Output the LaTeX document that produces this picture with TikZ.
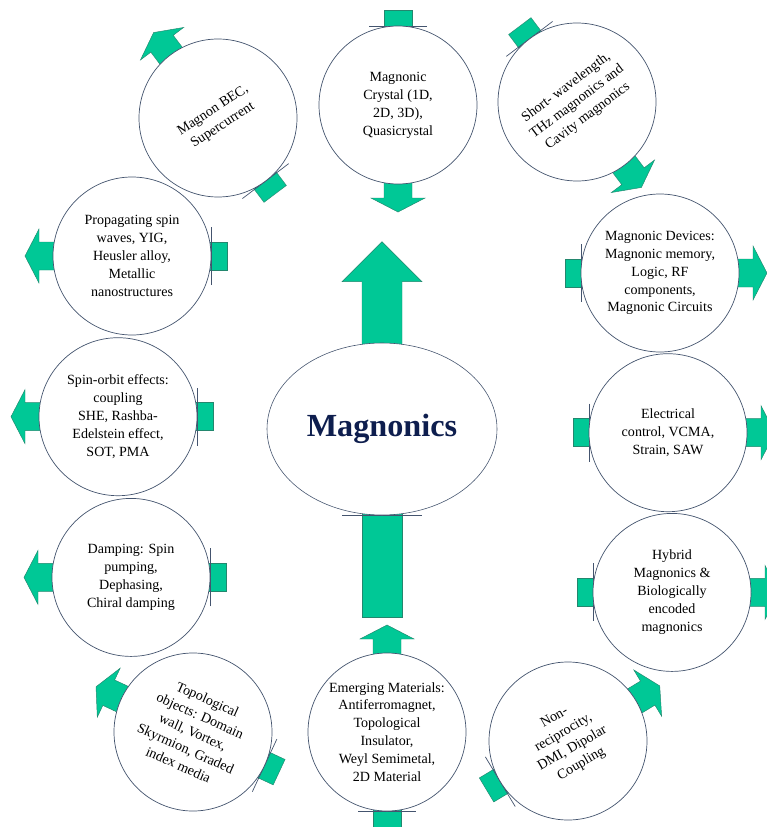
\documentclass[tikz,border=0pt]{standalone}
\usepackage{fontspec}
\setmainfont{Liberation Serif}
\usepackage{xcolor}
\usetikzlibrary{shapes.geometric, positioning, backgrounds}

\definecolor{blockgreen}{RGB}{0,200,150}
\definecolor{blockedge}{RGB}{35,135,110}
\definecolor{ringblue}{RGB}{68,84,110}
\definecolor{titleblue}{RGB}{14,30,78}

\begin{document}
\begin{tikzpicture}[
            x=0.3mm, y=0.3mm,
            % Estilos de los circulos y flechas
            topic/.style={circle, draw=ringblue, line width=0.6pt, fill=white, minimum size=47.4mm, inner sep=0pt, align=center, font=\fontsize{12}{15.3}\selectfont},
            core/.style={ellipse, draw=ringblue, line width=0.5pt, fill=white, minimum width=69mm, minimum height=51.6mm, inner sep=0pt, font=\fontsize{27.5}{30}\selectfont\bfseries, text=titleblue},
            block/.style={fill=blockgreen, draw=blockedge, line width=0.4pt},
            tangent/.style={draw=ringblue, line width=0.6pt},
            outarrow/.pic={\path[block] (66,-14) -- (93,-14) -- (93,-27) -- (107,0) -- (93,27) -- (93,14) -- (66,14) -- cycle;},
            instub/.pic={\path[block] (66,-14) rectangle (95,14);
                \draw[tangent] (79,-29) -- (79,29);}
            ]
            \useasboundingbox (0,0) rectangle (766,-827);

            % Nodo central
            \node (magnonics) [core] at (382,-429) {Magnonics};

            % Circulos de arriba
            \node (crystal) [topic] at (398,-105) {Magnonic\\Crystal (1D,\\2D, 3D),\\Quasicrystal};
            \node (bec) [topic, rotate=33] at (218,-118) {Magnon BEC,\\Supercurrent};
            \node (shortwave) [topic, rotate=37] at (577,-102) {Short- wavelength,\\THz magnonics and\\Cavity magnonics};

            % Columna derecha
            \node (devices) [topic] at (660,-273) {Magnonic Devices:\\Magnonic memory,\\Logic, RF\\components,\\Magnonic Circuits};
            \node (electrical) [topic, below=0.3mm of devices, xshift=2.4mm] {Electrical\\control, VCMA,\\Strain, SAW};
            \node (hybrid) [topic, below=0.3mm of electrical, xshift=1.2mm] {Hybrid\\Magnonics \&\\Biologically\\encoded\\magnonics};

            % Circulos de abajo
            \node (nonrecip) [topic, rotate=30] at (568,-741) {Non-\\reciprocity,\\DMI, Dipolar\\Coupling};
            \node (emerging) [topic] at (387,-732) {Emerging Materials:\\Antiferromagnet,\\Topological\\Insulator,\\Weyl Semimetal,\\2D Material};
            \node (topo) [topic, rotate=-24] at (193,-732) {Topological\\objects: Domain\\wall, Vortex,\\Skyrmion, Graded\\index media};

            % Columna izquierda
            \node (propagating) [topic] at (132,-256) {Propagating spin\\waves, YIG,\\Heusler alloy,\\Metallic\\nanostructures};
            \node (spinorbit) [topic, below=0.6mm of propagating, xshift=-4.2mm] {Spin-orbit effects:\\coupling\\SHE, Rashba-\\Edelstein effect,\\SOT, PMA};
            \node (damping) [topic, below=0.6mm of spinorbit, xshift=3.9mm] {Damping: Spin\\pumping,\\Dephasing,\\Chiral damping};

            % Flechas (detras de los circulos)
            \begin{scope}[on background layer]
                \foreach \n/\a in {crystal/-90, bec/127, shortwave/-53, devices/0, electrical/0, hybrid/0,
                        nonrecip/31, emerging/90, topo/155, damping/180, spinorbit/180, propagating/180} {
                    \pic[rotate=\a] at (\n) {outarrow};
                    \pic[rotate=\a+180] at (\n) {instub};
                }
                % Flecha grande del nodo central
                \path[block] (magnonics.north) ++(-20,-10) -- ++(0,71) -- ++(-20,0) -- ++(40,40)
                    -- ++(40,-40) -- ++(-20,0) -- ++(0,-71) -- cycle;
                \path[block] (magnonics.south) ++(-20,10) rectangle ++(40,-112);
                \draw[tangent] (magnonics.south) ++(-40,0) -- ++(80,0);
            \end{scope}

        \end{tikzpicture}
\end{document}
